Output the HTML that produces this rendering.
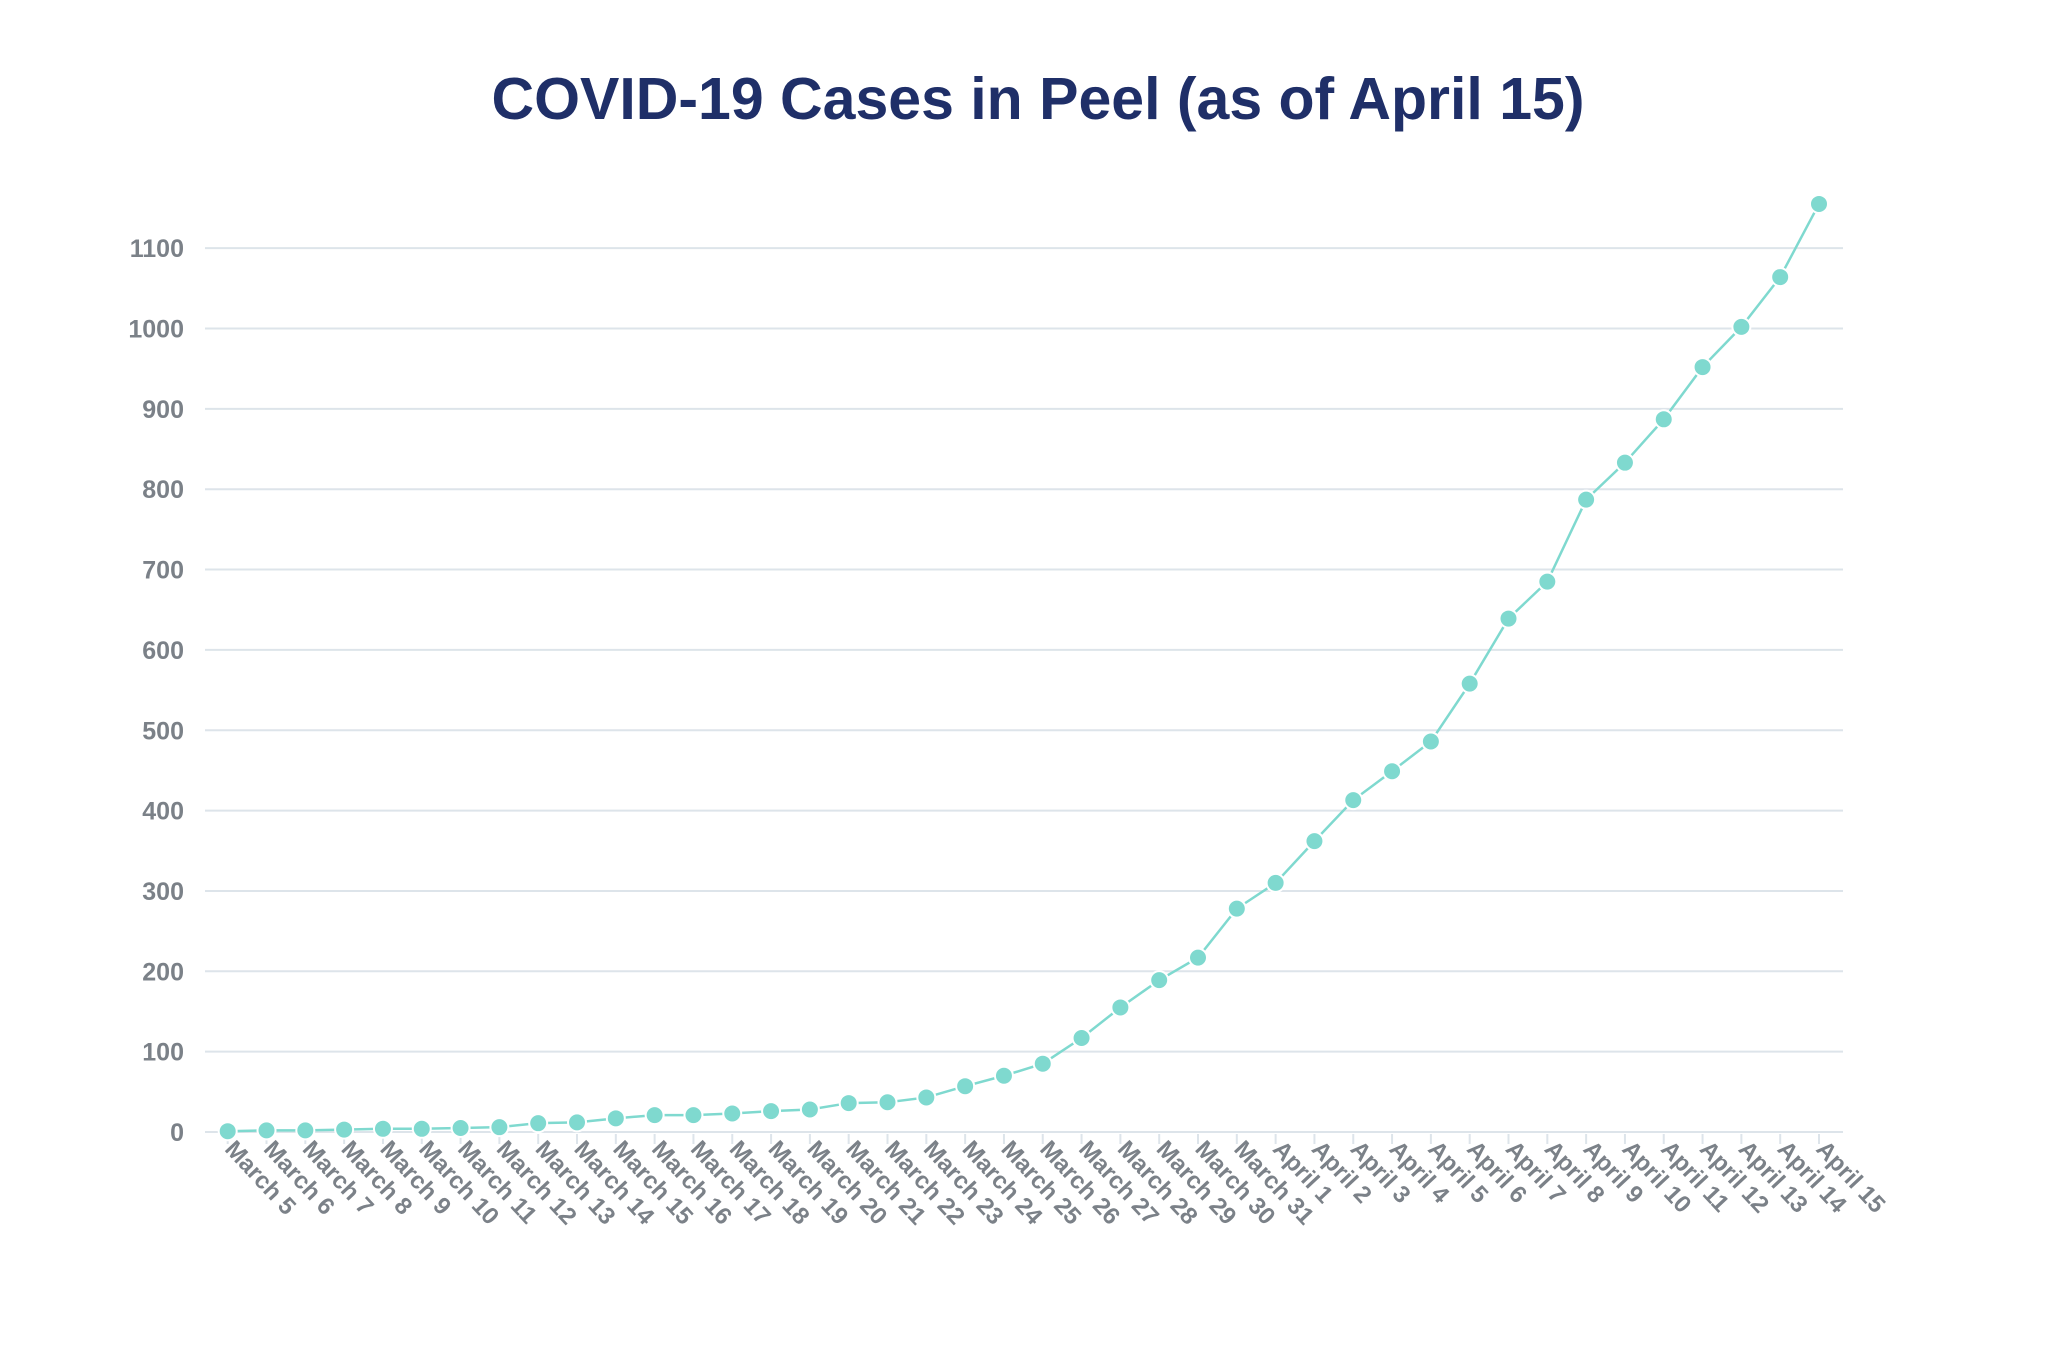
<!DOCTYPE html>
<html><head><meta charset="utf-8"><style>
html,body{margin:0;padding:0;background:#fff;}
svg{display:block;font-family:"Liberation Sans",sans-serif;}
</style></head><body>
<svg id="chart" width="2048" height="1364" viewBox="0 0 2048 1364" xmlns="http://www.w3.org/2000/svg">
<text x="1038" y="119" text-anchor="middle" font-size="59" fill="#1f2f68" font-weight="bold">COVID-19 Cases in Peel (as of April 15)</text>
<g id="grid"></g><g id="yticks"></g><g id="xticks"></g><g id="series"></g>
</svg>
<script>
const categories = ["March 5","March 6","March 7","March 8","March 9","March 10","March 11","March 12","March 13","March 14","March 15","March 16","March 17","March 18","March 19","March 20","March 21","March 22","March 23","March 24","March 25","March 26","March 27","March 28","March 29","March 30","March 31","April 1","April 2","April 3","April 4","April 5","April 6","April 7","April 8","April 9","April 10","April 11","April 12","April 13","April 14","April 15"];
const cases = [1,2,2,3,4,4,5,6,11,12,17,21,21,23,26,28,36,37,43,57,70,85,117,155,189,217,278,310,362,413,449,486,558,639,685,787,833,887,952,1002,1064,1155];
const yTicks = [0,100,200,300,400,500,600,700,800,900,1000,1100];

const NS="http://www.w3.org/2000/svg";
const x0=227.7, x1=1819, left=205, right=1843;
const yZero=1132, pxPerUnit=0.8035;
const xScale=i=>x0+(x1-x0)*i/(categories.length-1);
const yScale=v=>yZero-v*pxPerUnit;
function mk(tag,attrs,parent){const e=document.createElementNS(NS,tag);for(const k in attrs)e.setAttribute(k,attrs[k]);parent.appendChild(e);return e;}
const grid=document.getElementById('grid'),yt=document.getElementById('yticks'),xt=document.getElementById('xticks'),ser=document.getElementById('series');
yTicks.forEach(v=>{
  const l=mk('line',{x1:left,x2:right,y1:yScale(v),y2:yScale(v),stroke:'#dde4ea','stroke-width':2},grid);
  
  
  const t=mk('text',{x:184,y:yScale(v)+9,'text-anchor':'end','font-size':25,'font-weight':'bold',fill:'#7b8188'},yt);
  
  
  t.textContent=v;
});
categories.forEach((c,i)=>{
  const x=xScale(i);
  const tk=mk('line',{x1:x,x2:x,y1:yZero+2,y2:yZero+12,stroke:'#dde4ea','stroke-width':2},xt);
  
  
  const t=mk('text',{x:0,y:0,transform:`translate(${x-4},${1150}) rotate(47)`,'font-size':24,'font-weight':'bold',fill:'#7b8188'},xt);
  
  
  t.textContent=c;
});
const pts=cases.map((v,i)=>xScale(i)+','+yScale(v)).join(' ');
const pl=mk('polyline',{points:pts,fill:'none',stroke:'#7fd9cf','stroke-width':2.5},ser);


cases.forEach((v,i)=>{
  const c=mk('circle',{cx:xScale(i),cy:yScale(v),r:9,fill:'#7fd9cf',stroke:'#fff','stroke-width':2},ser);
  
  
});
</script>
</body></html>
